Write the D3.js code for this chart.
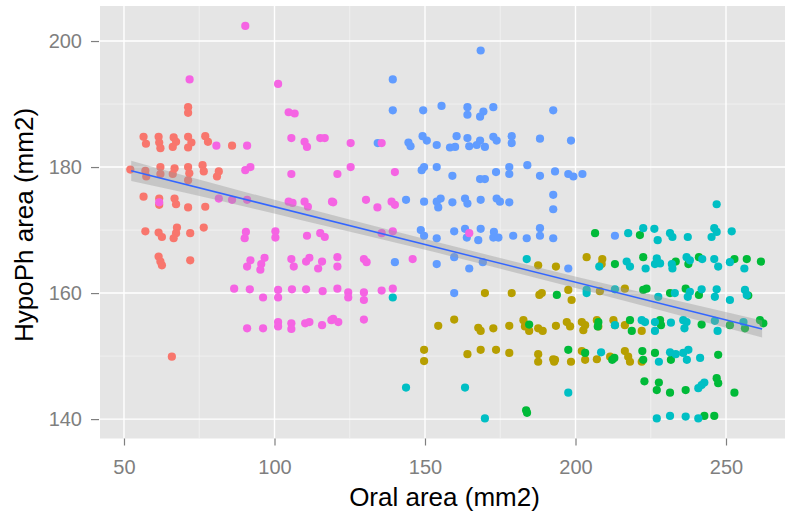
<!DOCTYPE html>
<html>
<head>
<meta charset="utf-8">
<script src="https://cdn.jsdelivr.net/npm/d3@7"></script>
<style>
  body { margin: 0; background: #fff; }
  text { font-family: "Liberation Sans", Arial, sans-serif; }
</style>
</head>
<body>
<div id="chart"></div>
<script>
// points per group, [oral area, hypoPh area]
var g1 = [[52.1,179.6],[71.3,189.5],[71.3,188.6],[56.5,184.8],[57.3,183.7],[61.5,184.8],[61.7,183.9],[62.1,183.0],[66.5,184.7],[67.3,184.0],[66.2,183.2],[71.3,184.8],[72.4,183.9],[71.3,183.1],[77.0,184.9],[77.9,184.0],[85.9,183.4],
  [57.1,179.4],[57.4,178.5],[62.1,180.0],[62.1,178.9],[66.8,179.8],[66.2,178.9],[71.3,180.0],[71.7,179.0],[71.3,177.9],[76.1,180.3],[76.5,179.3],[81.5,179.3],[80.9,178.5],
  [56.5,175.3],[61.7,175.0],[61.7,174.0],[66.8,175.0],[67.3,174.1],[71.3,173.6],[77.0,173.7],
  [57.1,169.8],[61.5,169.6],[62.6,168.9],[67.6,170.4],[67.3,169.5],[66.5,168.7],[72.0,169.5],[76.5,170.4],
  [61.5,165.8],[62.1,165.0],[62.6,164.4],[72.0,165.2],[65.9,149.9]];

var g2 = [[169.9,160.0],[178.8,160.0],[187.6,164.4],[188.0,159.7],[188.8,160.0],[193.5,164.2],[154.4,154.8],[159.7,155.8],[167.7,154.5],[168.5,154.0],[172.7,154.4],[178.0,154.8],[182.7,155.7],[183.2,154.7],[184.6,154.0],[187.6,154.4],[189.1,154.0],[193.5,154.8],
  [149.7,151.0],[149.7,149.2],[164.1,150.3],[168.5,151.0],[173.6,151.0],[178.0,150.5],[187.6,150.3],[187.6,149.1],[192.6,149.5],[192.9,149.1],
  [203.7,165.7],[208.9,165.4],[208.7,164.6],[197.6,160.5],[198.7,158.9],[208.1,160.3],[216.4,160.7],
  [197.1,155.4],[198.2,154.7],[202.1,155.4],[203.2,154.9],[202.6,154.1],[207.1,155.7],[207.6,154.7],[212.6,155.7],[213.1,154.9],[216.4,154.9],[222.0,154.0],
  [193.2,149.4],[198.5,149.1],[202.1,150.8],[203.2,149.4],[207.1,149.5],[211.5,149.9],[216.4,150.8],[217.5,149.9],[218.1,149.1],[222.0,149.1]];

var g3 = [[206.5,169.5],[221.4,169.2],[213.1,164.6],[222.5,165.7],[233.3,165.0],[237.5,164.6],[241.0,165.7],[252.8,165.4],[256.9,165.4],[261.6,165.0],
  [193.8,159.7],[222.5,160.5],[223.6,160.7],[231.4,160.0],[236.6,160.7],[241.0,159.7],[257.4,159.6],
  [207.6,155.4],[207.4,154.7],[218.1,155.7],[218.7,154.0],[228.1,155.7],[228.4,154.9],[241.9,155.0],[251.3,154.9],[256.3,154.4],[261.3,155.7],[262.4,155.2],[184.6,155.0],
  [197.6,151.0],[203.2,150.5],[212.2,149.4],[212.9,149.7],[222.2,150.8],[222.5,149.4],[226.4,150.5],[231.7,149.4],[247.4,150.2],
  [222.9,146.0],[227.7,145.8],[227.0,144.6],[231.4,144.2],[236.6,144.6],[246.9,146.5],[247.4,145.7],[252.8,144.2],
  [242.8,140.5],[246.1,140.5],[183.6,141.4],[183.9,141.0]];

var g4 = [[246.9,174.1],[217.5,169.5],[222.5,170.3],[226.2,170.2],[227.3,168.4],[231.4,169.5],[232.2,168.9],[237.3,168.9],[246.1,170.3],[246.9,169.7],[245.2,168.9],[251.9,169.8],
  [207.9,164.2],[217.0,165.0],[218.1,164.2],[223.3,163.9],[227.0,165.5],[226.4,164.6],[228.1,164.7],[232.0,164.6],[232.2,163.9],[236.9,165.7],[238.0,165.2],[242.1,165.4],[246.1,165.4],[247.4,164.2],[251.3,164.9],[256.1,163.9],[183.8,165.4],
  [203.7,160.5],[203.7,160.0],[213.1,160.6],[227.5,159.4],[233.0,160.0],[237.3,159.4],[238.0,160.2],[241.9,160.6],[246.9,160.6],[246.3,159.4],[251.3,158.9],[256.3,160.5],[256.9,159.7],[139.3,159.3],
  [213.1,154.9],[222.0,155.7],[223.1,155.4],[226.4,155.4],[226.4,154.0],[231.7,155.3],[235.8,155.7],[236.9,155.4],[236.2,154.4],[246.3,155.6],[247.2,154.0],[255.8,155.4],
  [208.5,150.6],[227.7,149.1],[231.4,150.6],[233.3,150.3],[235.8,150.5],[237.5,151.0],[237.0,149.4],[241.4,149.7],
  [242.8,145.8],[241.9,145.4],[240.8,144.9],[197.6,144.2],[143.7,145.0],[163.3,145.0],
  [227.0,140.1],[231.4,140.5],[236.6,140.4],[240.8,140.1],[169.9,140.1]];

var g5 = [[168.5,198.5],[139.3,193.9],[139.3,189.0],[149.4,189.0],[155.5,189.7],[164.1,189.5],[164.1,188.3],[169.4,188.8],[168.3,188.0],[172.7,189.5],[192.6,189.0],
  [134.3,183.8],[144.5,183.9],[145.2,183.3],[149.2,184.9],[150.6,184.2],[153.9,183.5],[158.3,183.1],[160.0,183.2],[160.5,184.9],[164.1,184.6],[164.7,183.3],[168.3,184.2],[167.2,183.5],[169.9,183.2],[172.7,184.8],[173.8,184.2],[178.8,184.9],[178.8,183.8],[188.2,184.5],[198.5,184.2],
  [148.9,179.5],[149.7,180.0],[153.9,180.0],[159.1,178.6],[168.3,178.1],[169.9,178.1],[173.6,179.2],[178.0,180.0],[178.0,178.9],[184.0,180.3],[188.2,178.6],[193.2,179.3],[197.6,178.9],[199.3,178.5],[202.3,178.9],
  [143.7,174.8],[149.7,174.5],[153.9,174.5],[155.2,175.0],[154.4,173.6],[159.1,174.4],[163.3,175.0],[164.1,174.2],[168.5,174.8],[173.8,175.0],[174.9,174.5],[178.0,174.4],[192.6,175.6],[192.6,173.3],
  [148.6,170.0],[149.7,169.1],[153.9,168.7],[159.7,169.8],[163.3,170.2],[163.9,168.8],[167.7,168.4],[168.5,170.2],[172.9,169.7],[172.7,168.8],[174.4,168.8],[179.3,169.1],[183.8,168.7],[188.2,170.3],[188.2,169.1],[192.6,168.7],[213.1,169.1],
  [140.0,164.9],[153.9,164.6],[159.7,165.7],[164.7,163.9],[169.2,164.9],[197.6,163.9],[159.7,160.0]];

var g6 = [[90.3,202.4],[71.8,193.9],[101.2,193.2],[104.7,188.7],[106.7,188.5],
  [80.7,183.4],[90.9,183.4],[105.6,184.6],[110.0,184.0],[110.8,183.2],[115.2,184.6],[116.7,184.6],[125.3,183.8],[135.6,183.8],
  [90.3,179.5],[92.0,180.0],[105.6,178.9],[120.9,178.9],[125.3,180.0],[140.0,179.2],
  [61.7,174.4],[81.5,175.0],[85.9,174.8],[90.9,174.8],[104.7,174.5],[106.0,174.3],[110.0,174.5],[111.1,173.7],[119.1,174.5],[119.5,174.4],[130.4,174.8],[134.2,173.6],[138.9,174.5],[140.0,174.0],
  [90.5,169.7],[90.1,168.7],[100.3,169.8],[100.3,168.8],[110.8,169.1],[115.2,169.5],[116.7,168.9],[139.3,169.8],[135.6,169.5],[164.7,169.5],
  [92.0,165.2],[90.9,164.2],[96.7,165.6],[95.6,164.6],[95.3,163.7],[105.6,165.4],[106.4,164.2],[110.5,165.0],[111.6,165.6],[115.8,165.0],[114.5,163.9],[120.9,165.7],[120.9,164.2],[129.7,165.4],[130.6,164.9],[145.9,165.4],
  [86.6,160.7],[91.8,160.6],[96.2,159.3],[101.2,160.5],[101.2,159.3],[105.8,160.6],[110.5,160.6],[116.0,160.3],[120.9,160.7],[124.5,160.1],[124.5,159.3],[129.7,160.1],[129.7,158.9],[135.6,160.4],[139.3,160.7],
  [90.9,154.4],[96.2,154.4],[101.2,155.4],[101.2,154.7],[105.6,155.2],[105.6,154.3],[110.2,155.2],[111.6,155.4],[115.8,154.9],[118.9,155.7],[119.5,155.9],[121.2,155.4],[129.7,155.8]];

var groups = [g1, g2, g3, g4, g5, g6];
var groupColors = ["#F8766D", "#B79F00", "#00BA38", "#00BFC4", "#619CFF", "#F564E3"];

var xTicks = [50, 100, 150, 200, 250];
var xMinor = [75, 125, 175, 225];
var yTicks = [140, 160, 180, 200];
var yMinor = [150, 170, 190];

// fitted line and its confidence band
var fitX = [52.4, 262.0];
var fitY = [179.4, 154.3];
var bandX = [52.4, 70, 110, 150, 175, 225, 262];
var bandHalf = [1.6, 1.35, 1.05, 0.85, 0.85, 1.05, 1.35];

var width = 785, height = 513;
var panelL = 100, panelR = 785, panelT = 6, panelB = 438.5;

var svg = d3.select("#chart").append("svg")
    .attr("width", width)
    .attr("height", height);

var x = d3.scaleLinear().domain([42.03, 269.6]).range([panelL, panelR]);
var y = d3.scaleLinear().domain([136.92, 205.56]).range([panelB, panelT]);

svg.append("rect")
    .attr("x", panelL).attr("y", panelT)
    .attr("width", panelR - panelL).attr("height", panelB - panelT)
    .attr("fill", "#E5E5E5");

svg.append("clipPath").attr("id", "panel")
  .append("rect")
    .attr("x", panelL).attr("y", panelT)
    .attr("width", panelR - panelL).attr("height", panelB - panelT);

var grid = svg.append("g");
grid.selectAll(".xmin").data(xMinor).enter().append("line")
    .attr("x1", d => x(d)).attr("x2", d => x(d))
    .attr("y1", panelT).attr("y2", panelB)
    .attr("stroke", "#F2F2F2").attr("stroke-width", 0.8);
grid.selectAll(".ymin").data(yMinor).enter().append("line")
    .attr("x1", panelL).attr("x2", panelR)
    .attr("y1", d => y(d)).attr("y2", d => y(d))
    .attr("stroke", "#F2F2F2").attr("stroke-width", 0.8);
grid.selectAll(".xmaj").data(xTicks).enter().append("line")
    .attr("x1", d => x(d)).attr("x2", d => x(d))
    .attr("y1", panelT).attr("y2", panelB)
    .attr("stroke", "#fff").attr("stroke-width", 1.4);
grid.selectAll(".ymaj").data(yTicks).enter().append("line")
    .attr("x1", panelL).attr("x2", panelR)
    .attr("y1", d => y(d)).attr("y2", d => y(d))
    .attr("stroke", "#fff").attr("stroke-width", 1.4);

var plot = svg.append("g").attr("clip-path", "url(#panel)");

groups.forEach(function(pts, i) {
  plot.append("g").selectAll("circle")
      .data(pts)
      .enter().append("circle")
      .attr("cx", d => x(d[0]))
      .attr("cy", d => y(d[1]))
      .attr("r", 4.1)
      .attr("fill", groupColors[i]);
});

var slope = (fitY[1] - fitY[0]) / (fitX[1] - fitX[0]);
var fit = function(v) { return fitY[0] + (v - fitX[0]) * slope; };

var band = bandX.map(function(v, i) { return {x: v, lo: fit(v) - bandHalf[i], hi: fit(v) + bandHalf[i]}; });

plot.append("path")
    .datum(band)
    .attr("d", d3.area().curve(d3.curveMonotoneX)
      .x(d => x(d.x)).y0(d => y(d.lo)).y1(d => y(d.hi)))
    .attr("fill", "#999999")
    .attr("fill-opacity", 0.4);

plot.append("line")
    .attr("x1", x(fitX[0])).attr("y1", y(fitY[0]))
    .attr("x2", x(fitX[1])).attr("y2", y(fitY[1]))
    .attr("stroke", "#3366FF").attr("stroke-width", 1.5);

var yAxis = svg.append("g")
    .attr("transform", "translate(" + (panelL - 1) + ",0)")
    .call(d3.axisLeft(y).tickValues(yTicks).tickSize(8).tickPadding(9));
var xAxis = svg.append("g")
    .attr("transform", "translate(0," + panelB + ")")
    .call(d3.axisBottom(x).tickValues(xTicks).tickSize(7).tickPadding(14));

[xAxis, yAxis].forEach(function(a) {
  a.select(".domain").remove();
  a.selectAll("line").attr("stroke", "#7F7F7F").attr("stroke-width", 1.2);
  a.selectAll("text")
      .attr("fill", "#7F7F7F")
      .style("font-size", "20px")
      .style("font-family", "Liberation Sans, Arial, sans-serif");
});

svg.append("text")
    .attr("x", (panelL + panelR) / 2 + 2)
    .attr("y", 506)
    .attr("text-anchor", "middle")
    .style("font-size", "26px")
    .text("Oral area (mm2)");

svg.append("text")
    .attr("transform", "translate(33,225) rotate(-90)")
    .attr("text-anchor", "middle")
    .style("font-size", "26px")
    .text("HypoPh area (mm2)");
</script>
</body>
</html>
